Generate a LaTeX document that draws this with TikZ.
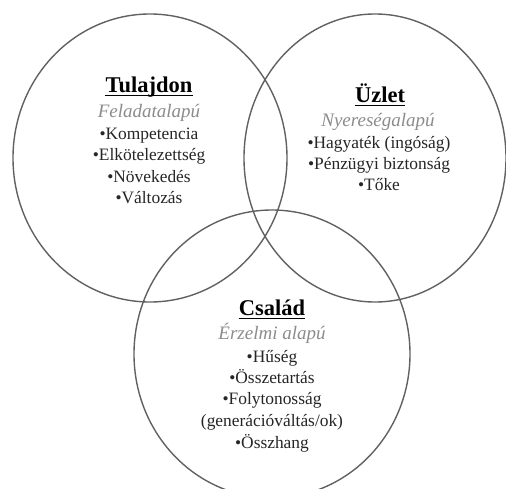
\documentclass[tikz,border=0pt]{standalone}
\usepackage{fontspec}
\setmainfont{Liberation Serif}
\begin{document}
\begin{tikzpicture}[x=1pt,y=-1pt,
  ring/.style={draw=black!62,line width=1.4pt},
  heading/.style={font=\fontsize{22.5}{26}\selectfont\bfseries,inner sep=0pt,anchor=base},
  subhead/.style={font=\fontsize{19}{22}\selectfont\itshape,text=black!45,inner sep=0pt,anchor=base},
  item/.style={font=\fontsize{17.4}{21}\selectfont,text=black!85,inner sep=0pt,anchor=base},
  uline/.style={line width=1.8pt,black}]
\useasboundingbox (0,0) rectangle (506,488);
\fill[white] (0,0) rectangle (506,488);

% the three overlapping sets
\draw[ring] (150,158) ellipse [x radius=137,y radius=144];
\draw[ring] (375,158) ellipse [x radius=131,y radius=144];
\draw[ring] (272,354) ellipse [x radius=138,y radius=144];

% Tulajdon
\node[heading] (h1) at (149,92) {Tulajdon};
\draw[uline] ([yshift=-3.5pt]h1.base west) -- ([yshift=-3.5pt]h1.base east);
\node[subhead] (s1) at (149,117) {Feladatalapú};
\node[item] (a1) at (149,139) {•Kompetencia};
\node[item] (a2) at (149,160) {•Elkötelezettség};
\node[item] (a3) at (149,182) {•Növekedés};
\node[item] (a4) at (149,203) {•Változás};

% Üzlet
\node[heading] (h2) at (380,102) {Üzlet};
\draw[uline] ([yshift=-3.5pt]h2.base west) -- ([yshift=-3.5pt]h2.base east);
\node[subhead] (s2) at (378,126) {Nyereségalapú};
\node[item] (b1) at (379,148) {•Hagyaték (ingóság)};
\node[item] (b2) at (379,169) {•Pénzügyi biztonság};
\node[item] (b3) at (379,190) {•Tőke};

% Család
\node[heading] (h3) at (272,315) {Család};
\draw[uline] ([yshift=-3.5pt]h3.base west) -- ([yshift=-3.5pt]h3.base east);
\node[subhead] (s3) at (272,339) {Érzelmi alapú};
\node[item] (c1) at (272,362) {•Hűség};
\node[item] (c2) at (272,383) {•Összetartás};
\node[item] (c3) at (272,404) {•Folytonosság};
\node[item] (c4) at (272,426) {(generációváltás/ok)};
\node[item] (c5) at (272,448) {•Összhang};
\end{tikzpicture}
\end{document}
